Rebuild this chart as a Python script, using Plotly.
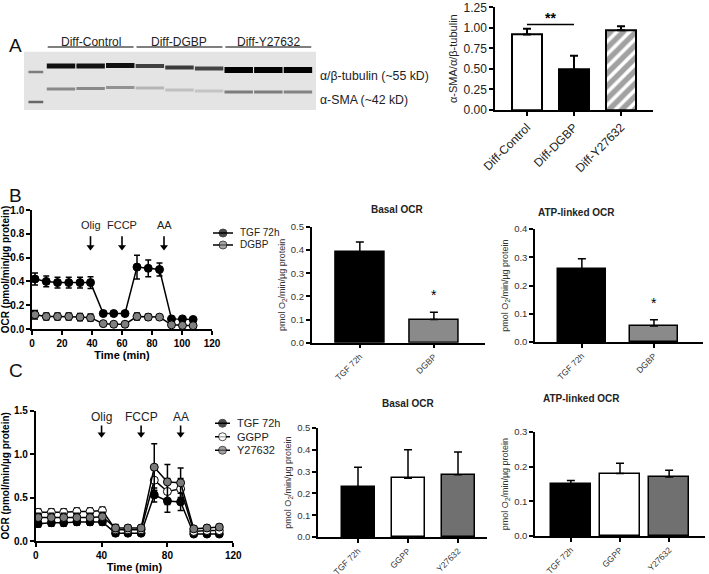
import plotly.graph_objects as go

W, H = 709, 574
def fx(p): return p / W
def fy(p): return 1 - p / H

FONT = "Arial, Liberation Sans, sans-serif"

# ---------------- Panel A: western blot ----------------
blot_groups = ["Diff-Control", "Diff-DGBP", "Diff-Y27632"]
blot_lanes = [1, 2, 3, 4, 5, 6, 7, 8, 9]
tub_level = [0.93, 0.92, 0.93, 0.72, 0.74, 0.70, 0.99, 0.99, 0.99]
tub_pos = [66, 66, 65.5, 66, 67.5, 68.5, 70, 70, 70]
tub_thick = [5, 5, 5, 4, 4, 4, 6, 6, 6]
sma_level = [0.40, 0.40, 0.36, 0.20, 0.16, 0.14, 0.45, 0.45, 0.42]
sma_pos = [89, 88.5, 87.5, 88, 90, 91, 92, 92, 92]
sma_thick = [3, 3, 3, 3, 3, 3, 3, 3, 3]
ladder_lane = 0.15
ladder_pos = [72, 102]
ladder_level = [0.45, 0.55]
blot_labels = ["α/β-tubulin (~55 kD)", "α-SMA (~42 kD)"]

# ---------------- Panel A: quantification ----------------
a_cats = ["Diff-Control", "Diff-DGBP", "Diff-Y27632"]
a_vals = [0.92, 0.49, 0.97]
a_errs = [0.07, 0.17, 0.05]

# ---------------- Panel B: OCR trace ----------------
b_time = [2, 9.5, 17, 24.5, 32, 39, 47.5, 54.5, 62, 70, 77.5, 85, 93, 100.3, 107.4]
b_tgf = [0.42, 0.40, 0.39, 0.39, 0.39, 0.39, 0.13, 0.13, 0.13, 0.52, 0.51, 0.50, 0.085, 0.085, 0.08]
b_tgf_err = [0.05, 0.045, 0.045, 0.045, 0.045, 0.05, 0.01, 0.01, 0.01, 0.10, 0.07, 0.055, 0.01, 0.01, 0.01]
b_dgbp = [0.12, 0.105, 0.105, 0.105, 0.10, 0.095, 0.045, 0.04, 0.04, 0.105, 0.10, 0.10, 0.035, 0.03, 0.028]
b_dgbp_err = [0.035, 0.03, 0.03, 0.03, 0.03, 0.03, 0.008, 0.008, 0.008, 0.03, 0.025, 0.02, 0.008, 0.008, 0.008]
b_inject_t = [39, 60, 88]
inject_names = ["Olig", "FCCP", "AA"]
b_series = ["TGF 72h", "DGBP"]
b_fill = ["black", "#808080"]

b_bar_cats = ["TGF 72h", "DGBP"]
b_basal = [0.39, 0.10]
b_basal_err = [0.045, 0.032]
b_atp = [0.257, 0.057]
b_atp_err = [0.038, 0.022]

# ---------------- Panel C: OCR trace ----------------
c_time = [1.5, 9.5, 17, 25, 33, 40.5, 48.5, 56, 64, 72, 80, 88, 96, 104, 111.5]
c_tgf = [0.20, 0.21, 0.21, 0.22, 0.22, 0.22, 0.09, 0.09, 0.09, 0.53, 0.46, 0.45, 0.08, 0.08, 0.08]
c_tgf_err = [0.04, 0.04, 0.04, 0.04, 0.04, 0.04, 0.03, 0.02, 0.02, 0.08, 0.13, 0.10, 0.02, 0.02, 0.02]
c_ggpp = [0.33, 0.33, 0.33, 0.34, 0.34, 0.35, 0.13, 0.13, 0.13, 0.70, 0.57, 0.60, 0.11, 0.12, 0.12]
c_ggpp_err = [0.04, 0.04, 0.04, 0.04, 0.04, 0.04, 0.05, 0.03, 0.03, 0.12, 0.15, 0.12, 0.03, 0.03, 0.03]
c_y27 = [0.27, 0.27, 0.27, 0.27, 0.27, 0.28, 0.15, 0.15, 0.15, 0.85, 0.68, 0.67, 0.14, 0.15, 0.16]
c_y27_err = [0.05, 0.05, 0.05, 0.05, 0.05, 0.05, 0.04, 0.03, 0.03, 0.27, 0.20, 0.17, 0.03, 0.03, 0.03]
c_inject_t = [40, 64, 88]
c_series = ["TGF 72h", "GGPP", "Y27632"]
c_fill = ["black", "white", "#7a7a7a"]

c_bar_cats = ["TGF 72h", "GGPP", "Y27632"]
c_basal = [0.23, 0.27, 0.285]
c_basal_err = [0.09, 0.13, 0.105]
c_atp = [0.15, 0.18, 0.17]
c_atp_err = [0.01, 0.03, 0.02]

fig = go.Figure()

def gray(level, bg=228):
    v = int(round(bg * (1 - level)))
    return f"rgb({v},{v},{v})"

# ---- blot bands ----
for i, ln in enumerate(blot_lanes):
    fig.add_trace(go.Scatter(x=[ln - 0.48, ln + 0.48], y=[tub_pos[i], tub_pos[i]], mode="lines",
                             line=dict(color=gray(tub_level[i]), width=tub_thick[i]),
                             showlegend=False, hoverinfo="skip", xaxis="x", yaxis="y"))
    fig.add_trace(go.Scatter(x=[ln - 0.48, ln + 0.48], y=[sma_pos[i], sma_pos[i]], mode="lines",
                             line=dict(color=gray(sma_level[i]), width=sma_thick[i]),
                             showlegend=False, hoverinfo="skip", xaxis="x", yaxis="y"))
for p, lv in zip(ladder_pos, ladder_level):
    fig.add_trace(go.Scatter(x=[ladder_lane - 0.25, ladder_lane + 0.25], y=[p, p], mode="lines",
                             line=dict(color=gray(lv), width=2.5),
                             showlegend=False, hoverinfo="skip", xaxis="x", yaxis="y"))

# ---- A bars ----
fig.add_trace(go.Bar(x=[0, 1, 2], y=a_vals, width=0.65,
                     marker=dict(color=["white", "black", "white"],
                                 line=dict(color="black", width=2),
                                 pattern=dict(shape=["", "", "/"], fgcolor="black", bgcolor="white",
                                              size=9, solidity=0.6)),
                     error_y=dict(type="data", array=a_errs, arrayminus=[0, 0, 0], symmetric=False,
                                  color="black", thickness=2, width=4),
                     showlegend=False, xaxis="x2", yaxis="y2"))

# ---- B trace ----
for name, ys, es, col in zip(b_series, [b_tgf, b_dgbp], [b_tgf_err, b_dgbp_err], b_fill):
    fig.add_trace(go.Scatter(x=b_time, y=ys, mode="lines+markers", name=name,
                             line=dict(color="black", width=1.5),
                             marker=dict(color=col, size=8, line=dict(color="black", width=1)),
                             error_y=dict(type="data", array=es, color="black", thickness=1.5, width=3),
                             showlegend=False, xaxis="x3", yaxis="y3"))

def bar_trace(vals, errs, colors, xa, ya, width):
    n = len(vals)
    return go.Bar(x=list(range(n)), y=vals, width=width,
                  marker=dict(color=colors, line=dict(color="black", width=1.5)),
                  error_y=dict(type="data", array=errs, arrayminus=[0] * n, symmetric=False,
                               color="black", thickness=1.5, width=4),
                  showlegend=False, xaxis=xa, yaxis=ya)

fig.add_trace(bar_trace(b_basal, b_basal_err, ["black", "#8a8a8a"], "x4", "y4", 0.66))
fig.add_trace(bar_trace(b_atp, b_atp_err, ["black", "#8a8a8a"], "x5", "y5", 0.66))

# ---- C trace ----
for name, ys, es, col in zip(c_series, [c_tgf, c_ggpp, c_y27], [c_tgf_err, c_ggpp_err, c_y27_err], c_fill):
    fig.add_trace(go.Scatter(x=c_time, y=ys, mode="lines+markers", name=name,
                             line=dict(color="black", width=1.5),
                             marker=dict(color=col, size=8, line=dict(color="black", width=1)),
                             error_y=dict(type="data", array=es, color="black", thickness=1.5, width=3),
                             showlegend=False, xaxis="x6", yaxis="y6"))

fig.add_trace(bar_trace(c_basal, c_basal_err, ["black", "white", "#707070"], "x7", "y7", 0.66))
fig.add_trace(bar_trace(c_atp, c_atp_err, ["black", "white", "#707070"], "x8", "y8", 0.8))

# ---- injection arrows (line + arrowhead marker) ----
def inject(ts, xa, ya, tail, tip):
    for t in ts:
        fig.add_trace(go.Scatter(x=[t, t], y=[tail, tip], mode="lines", line=dict(color="black", width=1.6),
                                 showlegend=False, hoverinfo="skip", xaxis=xa, yaxis=ya))
        fig.add_trace(go.Scatter(x=[t], y=[tip], mode="markers",
                                 marker=dict(symbol="triangle-down", size=7, color="black"),
                                 showlegend=False, hoverinfo="skip", xaxis=xa, yaxis=ya))

inject(b_inject_t, "x3", "y3", 0.78, 0.69)
inject(c_inject_t, "x6", "y6", 1.33, 1.23)

# ---- compact legend keys (own key axes) ----
def legend_keys(names, fills, xa, ya):
    for i, (nm, col) in enumerate(zip(names, fills)):
        fig.add_trace(go.Scatter(x=[0, 0.5, 1], y=[i, i, i], mode="lines+markers",
                                 line=dict(color="black", width=1.5),
                                 marker=dict(color=col, size=[0, 8, 0], line=dict(color="black", width=[0, 1, 0])),
                                 showlegend=False, hoverinfo="skip", xaxis=xa, yaxis=ya))

legend_keys(b_series, b_fill, "x9", "y9")
legend_keys(c_series, c_fill, "x10", "y10")

# ---------------- axes ----------------
ax_common = dict(showline=True, linecolor="black", linewidth=1.5, ticks="outside", ticklen=4,
                 tickwidth=1.5, tickcolor="black", showgrid=False, zeroline=False, automargin=False)

lay = dict(width=W, height=H, margin=dict(l=0, r=0, t=0, b=0, autoexpand=False), autosize=False,
           paper_bgcolor="white", plot_bgcolor="rgba(0,0,0,0)", showlegend=False,
           font=dict(family=FONT, color="black"), bargap=0)

# blot
lay["xaxis"] = dict(domain=[fx(24), fx(316)], range=[-0.25, 9.61], visible=False, anchor="y", automargin=False)
lay["yaxis"] = dict(domain=[fy(110), fy(51.7)], range=[110, 51.7], visible=False, anchor="x", automargin=False)

# A bar
lay["xaxis2"] = dict(ax_common, domain=[fx(495), fx(653)], range=[-0.68, 2.68], anchor="y2",
                     tickvals=[0, 1, 2], ticktext=a_cats, tickangle=-45,
                     tickfont=dict(size=12, family=FONT, color="#222"))
lay["yaxis2"] = dict(ax_common, domain=[fy(110), fy(7.3)], range=[0, 1.25], anchor="x2",
                     tickvals=[0, 0.25, 0.5, 0.75, 1.0, 1.25], tickformat=".2f",
                     tickfont=dict(size=12, family=FONT, color="#222"),
                     title=dict(text="α-SMA/α/β-tubulin", font=dict(size=11, family=FONT, color="#222"), standoff=4))

bold_tick = dict(size=10, family=FONT, color="black", weight="bold")
# B trace
lay["xaxis3"] = dict(ax_common, domain=[fx(32), fx(212)], range=[0, 120], dtick=20, anchor="y3",
                     tickfont=bold_tick,
                     title=dict(text="Time (min)", font=dict(size=11, family=FONT, weight="bold"), standoff=4))
lay["yaxis3"] = dict(ax_common, domain=[fy(329), fy(210)], range=[0, 1.0], dtick=0.2, tickformat=".1f",
                     anchor="x3", tickfont=bold_tick,
                     title=dict(text="OCR (pmol/min/µg protein)", font=dict(size=10, family=FONT, weight="bold"), standoff=3))

small_tick = dict(size=9.5, family=FONT, color="#333")
ytitle = dict(text="pmol O<sub>2</sub>/min/µg protein", font=dict(size=9, family=FONT, color="#333"), standoff=4)

lay["xaxis4"] = dict(ax_common, domain=[fx(311.7), fx(485)], range=[-0.65, 1.69], anchor="y4",
                     tickvals=[0, 1], ticktext=b_bar_cats, tickangle=-45, tickfont=dict(size=8.5, family=FONT, color="#333"))
lay["yaxis4"] = dict(ax_common, domain=[fy(342.7), fy(227)], range=[0, 0.5], dtick=0.1, tickformat=".1f",
                     anchor="x4", tickfont=small_tick, title=ytitle)
lay["xaxis5"] = dict(ax_common, domain=[fx(535), fx(703)], range=[-0.65, 1.68], anchor="y5",
                     tickvals=[0, 1], ticktext=b_bar_cats, tickangle=-45, tickfont=dict(size=8.5, family=FONT, color="#333"))
lay["yaxis5"] = dict(ax_common, domain=[fy(342), fy(229)], range=[0, 0.4], dtick=0.1, tickformat=".1f",
                     anchor="x5", tickfont=small_tick, title=ytitle)

# C trace
lay["xaxis6"] = dict(ax_common, domain=[fx(35.7), fx(233.3)], range=[0, 120], dtick=40, anchor="y6",
                     tickfont=bold_tick,
                     title=dict(text="Time (min)", font=dict(size=11, family=FONT, weight="bold"), standoff=4))
lay["yaxis6"] = dict(ax_common, domain=[fy(541), fy(410.7)], range=[0, 1.5], dtick=0.5, tickformat=".1f",
                     anchor="x6", tickfont=bold_tick,
                     title=dict(text="OCR (pmol/min/µg protein)", font=dict(size=10, family=FONT, weight="bold"), standoff=3))

lay["xaxis7"] = dict(ax_common, domain=[fx(318), fx(487)], range=[-0.8, 2.58], anchor="y7",
                     tickvals=[0, 1, 2], ticktext=c_bar_cats, tickangle=-45, tickfont=dict(size=8.5, family=FONT, color="#333"))
lay["yaxis7"] = dict(ax_common, domain=[fy(537), fy(428)], range=[0, 0.5], dtick=0.1, tickformat=".1f",
                     anchor="x7", tickfont=small_tick, title=ytitle)
lay["xaxis8"] = dict(ax_common, domain=[fx(535), fx(705)], range=[-0.73, 2.73], anchor="y8",
                     tickvals=[0, 1, 2], ticktext=c_bar_cats, tickangle=-45, tickfont=dict(size=8.5, family=FONT, color="#333"))
lay["yaxis8"] = dict(ax_common, domain=[fy(536), fy(432)], range=[0, 0.3], dtick=0.1, tickformat=".1f",
                     anchor="x8", tickfont=small_tick, title=ytitle)

# legend key axes
lay["xaxis9"] = dict(domain=[fx(213), fx(233)], range=[0, 1], visible=False, anchor="y9", automargin=False)
lay["yaxis9"] = dict(domain=[fy(251), fy(227)], range=[1.5, -0.5], visible=False, anchor="x9", automargin=False)
lay["xaxis10"] = dict(domain=[fx(215), fx(230)], range=[0, 1], visible=False, anchor="y10", automargin=False)
lay["yaxis10"] = dict(domain=[fy(457), fy(416.5)], range=[2.5, -0.5], visible=False, anchor="x10", automargin=False)

fig.update_layout(**lay)

# ---------------- shapes & annotations ----------------
fig.add_shape(type="rect", xref="x domain", yref="y domain", x0=0, x1=1, y0=0, y1=1,
              fillcolor="rgb(228,228,228)", line=dict(width=0), layer="below")

ann = []
for gi, g in enumerate(blot_groups):
    c = 2 + 3 * gi
    fig.add_shape(type="line", xref="x", yref="paper", x0=c - 1.45, x1=c + 1.45, y0=fy(47), y1=fy(47),
                  line=dict(color="#555", width=1.5))
    ann.append(dict(x=c, y=fy(41.5), xref="x", yref="paper", text=g, showarrow=False,
                    font=dict(size=12, family=FONT, color="#222"), yanchor="middle"))
for lbl, p in zip(blot_labels, [67, 91]):
    ann.append(dict(x=fx(318), y=fy(p), xref="paper", yref="paper", text=lbl, showarrow=False,
                    xanchor="left", font=dict(size=12.3, family=FONT, color="#222")))

# significance in A
fig.add_shape(type="line", xref="x2", yref="y2", x0=0, x1=1, y0=1.04, y1=1.04, line=dict(color="black", width=1.5))
ann.append(dict(x=0.5, y=1.12, xref="x2", yref="y2", text="**", showarrow=False,
                font=dict(size=14, family=FONT, weight="bold")))

# panel letters
for L, p in [("A", 33), ("B", 183), ("C", 383)]:
    ann.append(dict(x=fx(7), y=fy(p), xref="paper", yref="paper", text=L, showarrow=False,
                    xanchor="left", font=dict(size=19, family=FONT, color="#111")))

# injection labels
for ts, xa, ya, ly, sz in [(b_inject_t, "x3", "y3", 0.87, 11), (c_inject_t, "x6", "y6", 1.43, 12)]:
    for t, nm in zip(ts, inject_names):
        ann.append(dict(x=t, y=ly, xref=xa, yref=ya, text=nm, showarrow=False,
                        font=dict(size=sz, family=FONT, color="#222")))

# legend labels
for names, xa, ya, sz in [(b_series, "x9", "y9", 10), (c_series, "x10", "y10", 11)]:
    for i, nm in enumerate(names):
        ann.append(dict(x=1, y=i, xref=xa, yref=ya, text=nm, showarrow=False, xanchor="left",
                        xshift=5, font=dict(size=sz, family=FONT, color="#222")))

# bar titles
for txt, xc, yc in [("Basal OCR", 397, 209), ("ATP-linked OCR", 617, 213),
                    ("Basal OCR", 408, 411), ("ATP-linked OCR", 622, 406)]:
    ann.append(dict(x=fx(xc), y=fy(yc), xref="paper", yref="paper", text=txt, showarrow=False,
                    font=dict(size=10, family=FONT, weight="bold", color="#222")))

# asterisks
ann.append(dict(x=1, y=0.205, xref="x4", yref="y4", text="*", showarrow=False, font=dict(size=14, family=FONT)))
ann.append(dict(x=1, y=0.138, xref="x5", yref="y5", text="*", showarrow=False, font=dict(size=14, family=FONT)))

fig.update_layout(annotations=ann)

fig.write_html("out.html", config={"displayModeBar": False},
               post_script="document.body.style.margin='0px';document.body.style.padding='0px';")
